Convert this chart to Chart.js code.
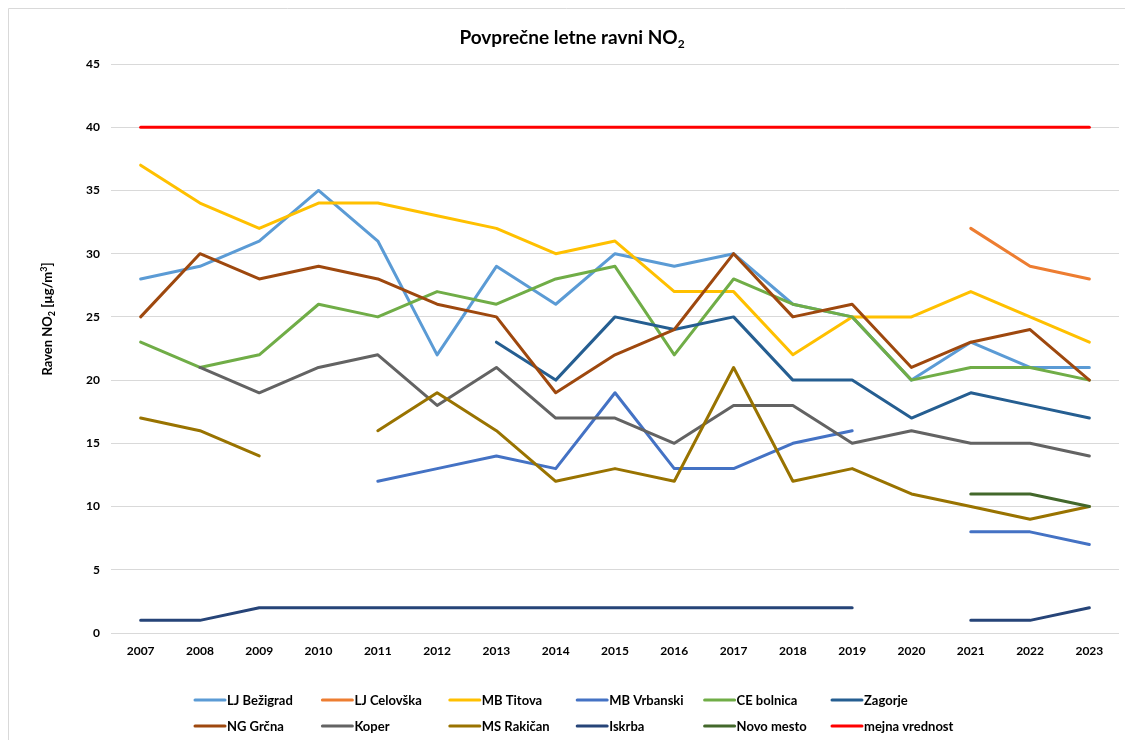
<!DOCTYPE html>
<html><head><meta charset="utf-8">
<script src="https://cdn.jsdelivr.net/npm/chart.js@4.4.1/dist/chart.umd.min.js"></script>
<style>html,body{margin:0;padding:0;background:#fff;}canvas{display:block;}</style>
</head><body>
<canvas id="c" width="1125" height="740"></canvas>
<script>
const years = ['2007','2008','2009','2010','2011','2012','2013','2014','2015','2016','2017','2018','2019','2020','2021','2022','2023'];
const ljBezigrad = [28,29,31,35,31,22,29,26,30,29,30,26,25,20,23,21,21];
const ljCelovska = [null,null,null,null,null,null,null,null,null,null,null,null,null,null,32,29,28];
const mbTitova   = [37,34,32,34,34,33,32,30,31,27,27,22,25,25,27,25,23];
const mbVrbanski = [null,null,null,null,12,13,14,13,19,13,13,15,16,null,8,8,7];
const ceBolnica  = [23,21,22,26,25,27,26,28,29,22,28,26,25,20,21,21,20];
const zagorje    = [null,null,null,null,null,null,23,20,25,24,25,20,20,17,19,18,17];
const ngGrcna    = [25,30,28,29,28,26,25,19,22,24,30,25,26,21,23,24,20];
const koper      = [null,21,19,21,22,18,21,17,17,15,18,18,15,16,15,15,14];
const msRakican  = [17,16,14,null,16,19,16,12,13,12,21,12,13,11,10,9,10];
const iskrba     = [1,1,2,2,2,2,2,2,2,2,2,2,2,null,1,1,2];
const novoMesto  = [null,null,null,null,null,null,null,null,null,null,null,null,null,null,11,11,10];
const mejna      = [40,40,40,40,40,40,40,40,40,40,40,40,40,40,40,40,40];
const seriesNames = ['LJ Bežigrad','LJ Celovška','MB Titova','MB Vrbanski','CE bolnica','Zagorje','NG Grčna','Koper','MS Rakičan','Iskrba','Novo mesto','mejna vrednost'];
const yTicks = [0,5,10,15,20,25,30,35,40,45];

const seriesData = [ljBezigrad,ljCelovska,mbTitova,mbVrbanski,ceBolnica,zagorje,ngGrcna,koper,msRakican,iskrba,novoMesto,mejna];
const colors = ['#5B9BD5','#ED7D31','#FFC000','#4472C4','#70AD47','#255E91','#9E480E','#636363','#997300','#264478','#43682B','#FF0000'];
const FONT = 'Lato, "Liberation Sans", sans-serif';

function drawRich(ctx, segs, x, y, align) {
  // segs: [{t, size, dy}]
  let total = 0;
  segs.forEach(s => { ctx.font = 'bold ' + s.size + 'px ' + FONT; s.w = ctx.measureText(s.t).width; total += s.w; });
  let cx = align === 'center' ? x - total / 2 : x;
  ctx.textAlign = 'left';
  ctx.textBaseline = 'alphabetic';
  segs.forEach(s => { ctx.font = 'bold ' + s.size + 'px ' + FONT; ctx.fillText(s.t, cx, y + (s.dy || 0)); cx += s.w; });
}

const decor = {
  id: 'decor',
  beforeDraw(chart) {
    const ctx = chart.ctx;
    ctx.save();
    ctx.strokeStyle = '#D9D9D9';
    ctx.lineWidth = 1;
    ctx.beginPath();
    ctx.moveTo(8.5, 740); ctx.lineTo(8.5, 8.5); ctx.lineTo(1125, 8.5);
    ctx.stroke();
    ctx.restore();
  },
  afterDraw(chart) {
    const ctx = chart.ctx;
    ctx.save();
    ctx.fillStyle = '#000';
    // title
    drawRich(ctx, [{t:'Povprečne letne ravni NO', size:19},{t:'2', size:12, dy:4}], 572, 44, 'center');
    // y axis title
    ctx.save();
    ctx.translate(52, 319);
    ctx.rotate(-Math.PI / 2);
    drawRich(ctx, [{t:'Raven NO', size:13},{t:'2', size:9, dy:3},{t:' [µg/m', size:13},{t:'3', size:9, dy:-5},{t:']', size:13}], 0, 0, 'center');
    ctx.restore();
    // legend grid
    chart.data.datasets.forEach((ds, i) => {
      const col = i % 6, row = Math.floor(i / 6);
      const x0 = 195 + col * 127.4;
      const y = 700 + row * 26;
      ctx.strokeStyle = ds.borderColor;
      ctx.lineWidth = 3;
      ctx.lineCap = 'round';
      ctx.beginPath(); ctx.moveTo(x0, y); ctx.lineTo(x0 + 30, y); ctx.stroke();
      ctx.font = 'bold 13px ' + FONT;
      ctx.textAlign = 'left';
      ctx.textBaseline = 'middle';
      ctx.fillStyle = '#000';
      ctx.fillText(ds.label, x0 + 32, y + 1);
    });
    ctx.restore();
  }
};

new Chart(document.getElementById('c'), {
  type: 'line',
  data: {
    labels: years,
    datasets: seriesData.map((d, i) => ({
      label: seriesNames[i],
      data: d,
      borderColor: colors[i],
      backgroundColor: colors[i],
      borderWidth: 3,
      pointRadius: 0,
      pointHoverRadius: 0,
      tension: 0,
      spanGaps: false,
      borderJoinStyle: 'round',
      borderCapStyle: 'round',
      order: -i
    }))
  },
  options: {
    responsive: false,
    devicePixelRatio: 1,
    animation: false,
    layout: { padding: { top: 64, right: 6, bottom: 77, left: 0 } },
    plugins: { legend: { display: false }, title: { display: false }, tooltip: { enabled: false } },
    scales: {
      x: {
        offset: true,
        grid: { display: false, drawTicks: false },
        border: { display: false },
        ticks: { color: '#000', font: { family: FONT, size: 12, weight: 'bold' }, padding: 11, maxRotation: 0 },
        afterFit(s) { s.height = 30; }
      },
      y: {
        min: 0, max: 45,
        grid: { color: '#D9D9D9', drawTicks: false },
        border: { display: false },
        afterBuildTicks(s) { s.ticks = yTicks.map(v => ({ value: v })); },
        ticks: { color: '#000', font: { family: FONT, size: 12, weight: 'bold' }, padding: 11 },
        afterFit(s) { s.width = 111; }
      }
    }
  },
  plugins: [decor]
});
</script>
</body></html>
